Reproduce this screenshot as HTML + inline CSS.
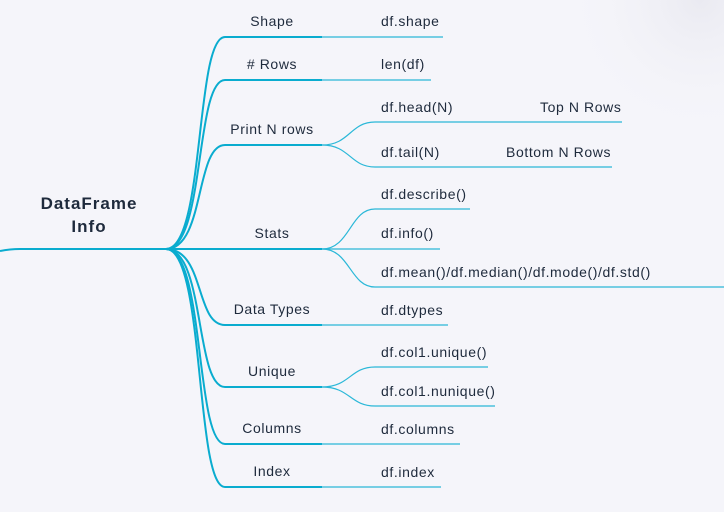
<!DOCTYPE html>
<html><head><meta charset="utf-8"><style>
html,body{margin:0;padding:0;background:#f5f5fa;}
svg{display:block}
text{font-family:"Liberation Sans",sans-serif;font-size:14px;fill:#1e2a3c;letter-spacing:0.6px;}
</style></head><body>
<svg width="724" height="512" viewBox="0 0 724 512">
<defs><radialGradient id="g" cx="700" cy="0" r="140" gradientUnits="userSpaceOnUse"><stop offset="0" stop-color="#eaeaf1"/><stop offset="1" stop-color="#f5f5fa" stop-opacity="0"/></radialGradient></defs>
<rect width="724" height="512" fill="#f5f5fa"/>
<rect width="724" height="200" fill="url(#g)"/>
<g fill="none" stroke="#0aaccf" stroke-width="2">
<path d="M0 251 Q10 249 20 249 L168 249"/>
<path d="M166 249 C205 249 195 37 225 37 L322 37"/>
<path d="M166 249 C205 249 195 80 225 80 L322 80"/>
<path d="M166 249 C205 249 195 145 225 145 L322 145"/>
<path d="M168 249 L322 249"/>
<path d="M166 249 C205 249 195 325 225 325 L322 325"/>
<path d="M166 249 C205 249 195 387 225 387 L322 387"/>
<path d="M166 249 C205 249 195 444 225 444 L322 444"/>
<path d="M166 249 C205 249 195 487 225 487 L322 487"/>
</g>
<g fill="none" stroke="#2bb8d8" stroke-width="1.2">
<path d="M322 37 L443 37"/>
<path d="M322 80 L431 80"/>
<path d="M322 145 C350 145 350 122 375 122 L622 122"/>
<path d="M322 145 C350 145 350 167 375 167 L612 167"/>
<path d="M322 249 C350 249 350 209 375 209 L470 209"/>
<path d="M322 249 L440 249"/>
<path d="M322 249 C350 249 350 287 375 287 L724 287"/>
<path d="M322 325 L448 325"/>
<path d="M322 387 C350 387 350 367 375 367 L488 367"/>
<path d="M322 387 C350 387 350 406 375 406 L495 406"/>
<path d="M322 444 L460 444"/>
<path d="M322 487 L441 487"/>
</g>
<text x="89" y="209" text-anchor="middle" style="font-size:17px;font-weight:bold;letter-spacing:1px">DataFrame</text>
<text x="89" y="232" text-anchor="middle" style="font-size:17px;font-weight:bold;letter-spacing:1px">Info</text>
<g text-anchor="middle">
<text x="272" y="26">Shape</text>
<text x="272" y="69"># Rows</text>
<text x="272" y="134">Print N rows</text>
<text x="272" y="238">Stats</text>
<text x="272" y="314">Data Types</text>
<text x="272" y="376">Unique</text>
<text x="272" y="433">Columns</text>
<text x="272" y="476">Index</text>
</g>
<text x="381" y="26">df.shape</text>
<text x="381" y="69">len(df)</text>
<text x="381" y="112">df.head(N)</text>
<text x="381" y="157">df.tail(N)</text>
<text x="540" y="112">Top N Rows</text>
<text x="506" y="157">Bottom N Rows</text>
<text x="381" y="199">df.describe()</text>
<text x="381" y="238">df.info()</text>
<text x="381" y="277">df.mean()/df.median()/df.mode()/df.std()</text>
<text x="381" y="315">df.dtypes</text>
<text x="381" y="357">df.col1.unique()</text>
<text x="381" y="396">df.col1.nunique()</text>
<text x="381" y="434">df.columns</text>
<text x="381" y="477">df.index</text>
</svg>
</body></html>
